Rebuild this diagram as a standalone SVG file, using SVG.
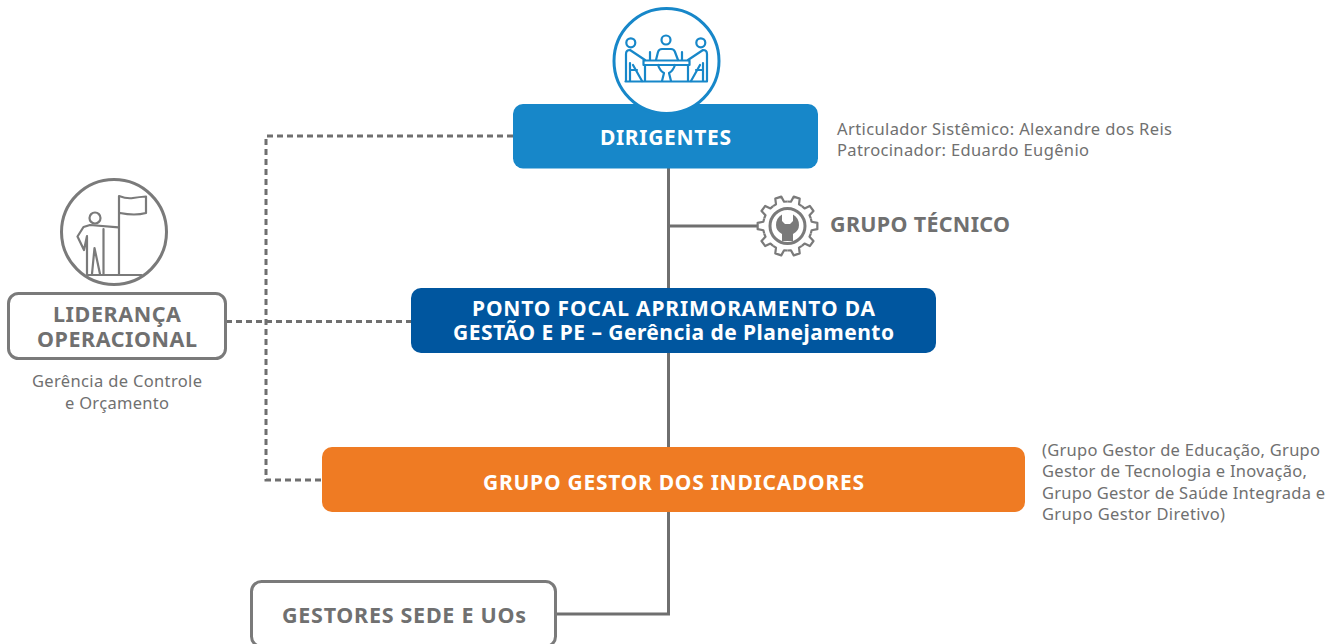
<svg xmlns="http://www.w3.org/2000/svg" xmlns:xlink="http://www.w3.org/1999/xlink" width="1338" height="644" viewBox="0 0 1338 644">
<style>
text{font-family:"Noto Sans","Open Sans",sans-serif}
.b{font-weight:700;font-size:21px;fill:#fff;text-anchor:middle}
.g{font-weight:700;font-size:21.500px;fill:#707070;text-anchor:middle}
.s{font-size:16.500px;fill:#707070}
.c{text-anchor:middle}
.solid{fill:none;stroke:#6f6f6f;stroke-width:3}
.dash{fill:none;stroke:#6f6f6f;stroke-width:3;stroke-dasharray:6 4}
.box{fill:#fff;stroke:#7a7a7a;stroke-width:3}
.ib{fill:none;stroke:#1787c9;stroke-width:2.200;stroke-linejoin:round;stroke-linecap:round}
.ig{fill:none;stroke:#7a7a7a;stroke-width:2.200;stroke-linejoin:round;stroke-linecap:round}
</style>
<defs><path id="tooth" d="M-7.570-23.300L-4.250-24.130L-3.140-29.840H3.140L4.250-24.130L7.570-23.300"/></defs>
<g id="connectors">
<path class="solid" d="M668.500 168V614H556"/>
<path class="solid" d="M668.500 226H758"/>
<path class="dash" d="M513 136H266V480H322"/>
<path class="dash" d="M226 321.500H411"/>
</g>
<g id="dirigentes">
<rect x="513" y="104" width="305" height="64.500" rx="10" fill="#1787c9"/>
<text class="b" x="665.500" y="144.500" textLength="131">DIRIGENTES</text>
<circle cx="666.500" cy="61" r="52.500" fill="#fff" stroke="#1787c9" stroke-width="3"/>
<g class="ib">
<path d="M625.500 81.500H707"/>
<circle cx="666" cy="40" r="4.500"/><circle cx="630.800" cy="42.800" r="4.500"/><circle cx="700.800" cy="42.800" r="4.500"/>
<rect x="643.500" y="60.500" width="46" height="4.500"/>
<path d="M656 60L658 52Q659 49 662 49H671Q674 49 675 52L678 60M650 52V60M682 52V60"/>
<path d="M645 65V81M688 65V81M658 65Q660 71 664 73L662 81M675 65Q673 71 669 73L671 81"/>
<path d="M626 81V54Q626 50 630 50L645 60M633 65L642 81M630 63V81M630 70H637"/>
<path d="M707 81V54Q707 50 703 50L688 60M700 65L691 81M703 63V81M703 70H696"/>
</g>
</g>
<g id="grupo-tecnico">
<circle cx="787.500" cy="226" r="17.500" fill="none" stroke="#7a7a7a" stroke-width="3"/>
<g fill="none" stroke="#7a7a7a" stroke-width="2.200" stroke-linejoin="round">
<use xlink:href="#tooth" transform="translate(787.500 226) rotate(18)"/>
<use xlink:href="#tooth" transform="translate(787.500 226) rotate(54)"/>
<use xlink:href="#tooth" transform="translate(787.500 226) rotate(90)"/>
<use xlink:href="#tooth" transform="translate(787.500 226) rotate(126)"/>
<use xlink:href="#tooth" transform="translate(787.500 226) rotate(162)"/>
<use xlink:href="#tooth" transform="translate(787.500 226) rotate(198)"/>
<use xlink:href="#tooth" transform="translate(787.500 226) rotate(234)"/>
<use xlink:href="#tooth" transform="translate(787.500 226) rotate(270)"/>
<use xlink:href="#tooth" transform="translate(787.500 226) rotate(306)"/>
<use xlink:href="#tooth" transform="translate(787.500 226) rotate(342)"/>
</g>
<path fill="#7a7a7a" d="M782 214.500V221L785 224H790L793 221V214.500Q799 218 799 225Q799 231 793 234V241H782V234Q776 231 776 225Q776 218 782 214.500Z"/>
<text class="g" x="920" y="232" textLength="180">GRUPO TÉCNICO</text>
</g>
<g id="ponto-focal">
<rect x="411" y="288" width="525" height="65" rx="10" fill="#00569f"/>
<text class="b" x="673.500" y="315.500" textLength="403">PONTO FOCAL APRIMORAMENTO DA</text>
<text class="b" x="673.500" y="340" textLength="441">GESTÃO E PE – Gerência de Planejamento</text>
</g>
<g id="grupo-gestor">
<rect x="322" y="447" width="703" height="65" rx="10" fill="#ef7b23"/>
<text class="b" x="673.500" y="490" textLength="381">GRUPO GESTOR DOS INDICADORES</text>
</g>
<g id="lideranca">
<circle cx="114" cy="232" r="52.500" fill="#fff" stroke="#7a7a7a" stroke-width="3"/>
<g class="ig">
<path d="M87 275H141.500M119 274V196Q127 199 133 198Q139 197 146 196.500V213Q135 216 120 213"/>
<path d="M103.500 229V274M118.500 227.300L90 225L83.500 227L77.500 236.500L84 250L87 236M87 237V274M92 274L94.500 248L100 274"/>
<circle cx="95" cy="218" r="5.500"/>
</g>
<rect class="box" x="8.500" y="293.500" width="217" height="65" rx="10"/>
<text class="g" x="117" y="322" textLength="128">LIDERANÇA</text>
<text class="g" x="117" y="347" textLength="160">OPERACIONAL</text>
<text class="s c" x="117" y="387" textLength="170">Gerência de Controle</text>
<text class="s c" x="117" y="409" textLength="104">e Orçamento</text>
</g>
<g id="gestores">
<rect class="box" x="251.500" y="581.500" width="304" height="65" rx="10"/>
<text class="g" x="404" y="623" textLength="244">GESTORES SEDE E UOs</text>
</g>
<g id="notas">
<text class="s" x="837" y="135" textLength="335">Articulador Sistêmico: Alexandre dos Reis</text>
<text class="s" x="837" y="156" textLength="252">Patrocinador: Eduardo Eugênio</text>
<text class="s" x="1042" y="456" textLength="278">(Grupo Gestor de Educação, Grupo</text>
<text class="s" x="1042" y="477" textLength="265">Gestor de Tecnologia e Inovação,</text>
<text class="s" x="1042" y="499" textLength="283">Grupo Gestor de Saúde Integrada e</text>
<text class="s" x="1042" y="520" textLength="183">Grupo Gestor Diretivo)</text>
</g>
</svg>
